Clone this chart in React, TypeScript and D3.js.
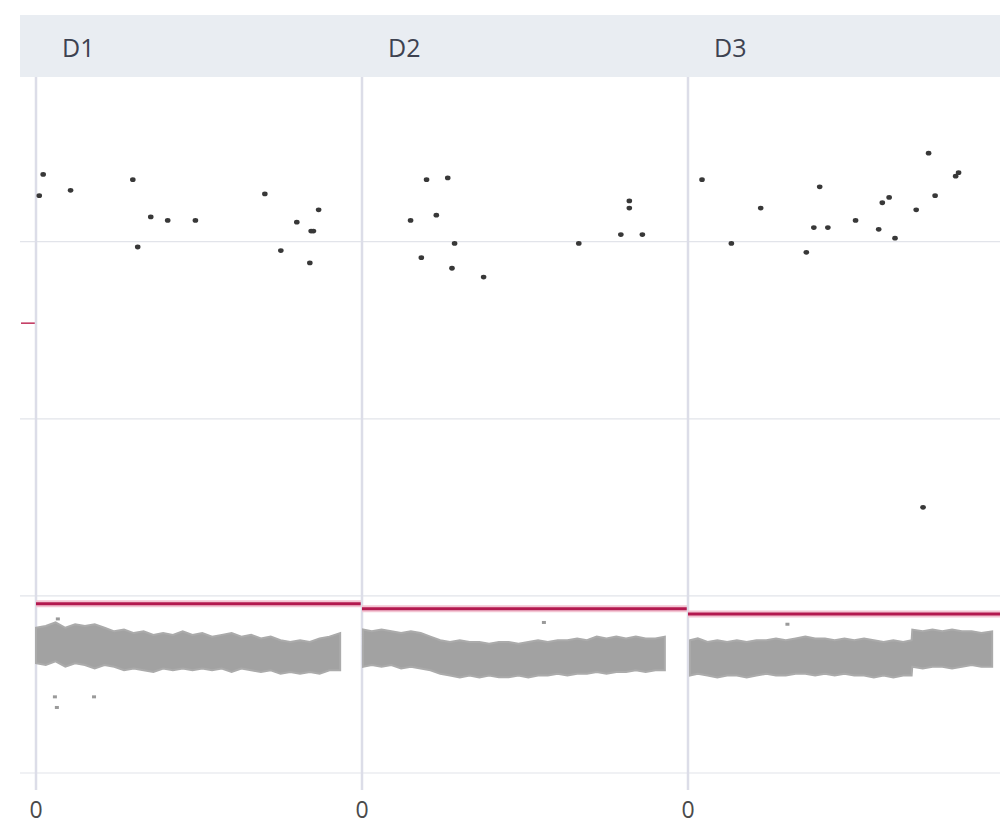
import { useEffect, useRef } from 'react';
import * as d3 from 'd3';

// panels (facets) and axis ticks
const panels = ['D1', 'D2', 'D3'];
const yTicks = [0, 1, 2, 3];
const xTicks = [0];

// segment mean level per panel
const segmentLevels = [0.955, 0.927, 0.898];

// called points (dark dots) per panel: [position, value]
const d1Points: [number, number][] = [
  [1.0, 3.26], [2.2, 3.38], [10.6, 3.29], [29.7, 3.35], [31.2, 2.97], [35.2, 3.14],
  [40.4, 3.12], [48.9, 3.12], [70.2, 3.27], [75.1, 2.95], [80.0, 3.11], [84.4, 3.06],
  [85.1, 3.06], [86.7, 3.18], [84.0, 2.88],
];
const d2Points: [number, number][] = [
  [14.9, 3.12], [19.8, 3.35], [26.3, 3.36], [22.8, 3.15], [28.4, 2.99], [18.2, 2.91],
  [27.6, 2.85], [37.3, 2.8], [66.5, 2.99], [82.0, 3.23], [82.0, 3.19], [79.4, 3.04],
  [86.0, 3.04],
];
const d3Points: [number, number][] = [
  [4.3, 3.35], [13.3, 2.99], [22.3, 3.19], [36.3, 2.94], [38.6, 3.08], [40.4, 3.31],
  [42.9, 3.08], [51.4, 3.12], [58.5, 3.07], [59.6, 3.22], [61.7, 3.25], [63.5, 3.02],
  [70.0, 3.18], [73.8, 3.5], [75.8, 3.26], [82.1, 3.37], [83.0, 3.39], [72.1, 1.5],
];

// stray grey points outside the dense band
const d1Outliers: [number, number][] = [[5.8, 0.43], [6.4, 0.37], [17.8, 0.43], [6.7, 0.87]];
const d2Outliers: [number, number][] = [[55.8, 0.85]];
const d3Outliers: [number, number][] = [[30.5, 0.84]];

// dense coverage band envelope per panel: [position, low, high]
const d1Band: [number, number, number][] = [
  [0, 0.62, 0.82], [3, 0.61, 0.83], [6, 0.63, 0.85], [9, 0.6, 0.82], [12, 0.62, 0.84],
  [15, 0.61, 0.83], [18, 0.59, 0.84], [21, 0.61, 0.82], [24, 0.6, 0.8], [27, 0.58, 0.81],
  [30, 0.59, 0.79], [33, 0.58, 0.8], [36, 0.57, 0.78], [39, 0.59, 0.79], [42, 0.58, 0.78],
  [45, 0.59, 0.8], [48, 0.58, 0.78], [51, 0.59, 0.79], [54, 0.58, 0.77], [57, 0.59, 0.78],
  [60, 0.57, 0.79], [63, 0.59, 0.77], [66, 0.58, 0.78], [69, 0.57, 0.76], [72, 0.58, 0.77],
  [75, 0.56, 0.75], [78, 0.57, 0.74], [81, 0.56, 0.75], [84, 0.57, 0.74], [87, 0.56, 0.76],
  [90, 0.58, 0.77], [93.3, 0.58, 0.79],
];
const d2Band: [number, number, number][] = [
  [0.3, 0.6, 0.81], [3, 0.61, 0.8], [6, 0.6, 0.81], [9, 0.61, 0.8], [12, 0.59, 0.79],
  [15, 0.6, 0.8], [18, 0.59, 0.79], [21, 0.58, 0.77], [24, 0.56, 0.75], [27, 0.55, 0.74],
  [30, 0.54, 0.75], [33, 0.55, 0.74], [36, 0.54, 0.74], [39, 0.55, 0.73], [42, 0.54, 0.74],
  [45, 0.54, 0.74], [48, 0.55, 0.73], [51, 0.54, 0.74], [54, 0.55, 0.75], [57, 0.55, 0.74],
  [60, 0.56, 0.75], [63, 0.55, 0.75], [66, 0.56, 0.76], [69, 0.56, 0.75], [72, 0.57, 0.77],
  [75, 0.56, 0.76], [78, 0.57, 0.77], [81, 0.57, 0.76], [84, 0.58, 0.77], [87, 0.57, 0.76],
  [90, 0.58, 0.76], [92.9, 0.58, 0.77],
];
const d3Band: [number, number, number][] = [
  [0.6, 0.55, 0.75], [3, 0.56, 0.76], [6, 0.55, 0.74], [9, 0.54, 0.75], [12, 0.55, 0.74],
  [15, 0.55, 0.75], [18, 0.54, 0.74], [21, 0.55, 0.75], [24, 0.56, 0.75], [27, 0.55, 0.76],
  [30, 0.55, 0.75], [33, 0.56, 0.76], [36, 0.56, 0.77], [39, 0.55, 0.76], [42, 0.56, 0.76],
  [45, 0.55, 0.75], [48, 0.56, 0.76], [51, 0.55, 0.75], [54, 0.55, 0.76], [57, 0.54, 0.75],
  [60, 0.55, 0.74], [63, 0.54, 0.75], [66, 0.55, 0.74], [68.6, 0.55, 0.75], [68.8, 0.6, 0.81],
  [72, 0.59, 0.8], [75, 0.6, 0.81], [78, 0.6, 0.8], [81, 0.59, 0.81], [84, 0.6, 0.8],
  [87, 0.61, 0.8], [90, 0.6, 0.79], [93.3, 0.6, 0.8],
];

// y-axis marker on the left
const yMarker = 2.54;

const panelPoints = [d1Points, d2Points, d3Points];
const panelOutliers = [d1Outliers, d2Outliers, d3Outliers];
const panelBands = [d1Band, d2Band, d3Band];

const FacetScatter = () => {
  const svgRef = useRef<SVGSVGElement | null>(null);

  useEffect(() => {
    const svg = d3.select(svgRef.current);
    svg.selectAll('*').remove();
    const width = 1000;
    const height = 826;
    const margin = { top: 77, left: 36, bottom: 53 };
    const panelWidth = 326;
    const plotBottom = height - margin.bottom;
    const font = '"Open Sans", sans-serif';

    svg.attr('width', width).attr('height', height);

    // soft edge like the dense point cloud
    const defs = svg.append('defs');
    defs.append('filter')
      .attr('id', 'soft')
      .append('feGaussianBlur')
      .attr('stdDeviation', 0.7);

    const fx = d3.scaleBand<string>()
      .domain(panels)
      .range([margin.left, margin.left + panelWidth * panels.length])
      .padding(0);

    const x = d3.scaleLinear().domain([0, 100]).range([0, panelWidth]);
    const y = d3.scaleLinear().domain([0, 3.93]).range([plotBottom, margin.top]);

    // header strip
    svg.append('rect')
      .attr('x', 20).attr('y', 15)
      .attr('width', width - 20).attr('height', margin.top - 15)
      .attr('fill', '#e9edf2');

    // horizontal grid
    svg.append('g')
      .selectAll('line')
      .data(yTicks)
      .join('line')
      .attr('x1', 20).attr('x2', width)
      .attr('y1', d => y(d)).attr('y2', d => y(d))
      .attr('stroke', '#e2e4ea')
      .attr('stroke-width', 1.2);

    // y marker
    svg.append('line')
      .attr('x1', 21).attr('x2', margin.left - 1)
      .attr('y1', y(yMarker)).attr('y2', y(yMarker))
      .attr('stroke', '#c0305a')
      .attr('stroke-width', 1.5);

    panels.forEach((p, i) => {
      const x0 = fx(p)!;
      const g = svg.append('g').attr('transform', `translate(${x0},0)`);

      // panel divider with tick extension
      g.append('line')
        .attr('x1', 0).attr('x2', 0)
        .attr('y1', margin.top).attr('y2', plotBottom + 17)
        .attr('stroke', '#dcdde8')
        .attr('stroke-width', 2.5);

      // x tick labels
      g.selectAll('text.xtick')
        .data(xTicks)
        .join('text')
        .attr('class', 'xtick')
        .attr('x', d => x(d))
        .attr('y', plotBottom + 45)
        .attr('text-anchor', 'middle')
        .attr('font-family', font)
        .attr('font-size', 23)
        .attr('fill', '#4a4a4a')
        .text(d => String(d));

      // facet label
      g.append('text')
        .attr('x', 26)
        .attr('y', 57)
        .attr('font-family', font)
        .attr('font-size', 25)
        .attr('fill', '#3d4250')
        .text(p);

      // dense coverage band
      const area = d3.area<[number, number, number]>()
        .x(d => x(d[0]))
        .y0(d => y(d[1]))
        .y1(d => y(d[2]))
        .curve(d3.curveLinear);
      g.append('path')
        .datum(panelBands[i])
        .attr('d', area)
        .attr('fill', '#a2a2a2')
        .attr('stroke', '#ababab')
        .attr('stroke-width', 2)
        .attr('filter', 'url(#soft)');

      // stray grey points
      g.selectAll('rect.outlier')
        .data(panelOutliers[i])
        .join('rect')
        .attr('class', 'outlier')
        .attr('x', d => x(d[0]) - 2)
        .attr('y', d => y(d[1]) - 1.5)
        .attr('width', 4).attr('height', 3)
        .attr('fill', '#9a9a9a');

      // segment level line
      const segEnd = i === panels.length - 1 ? width - x0 : panelWidth;
      g.append('line')
        .attr('x1', 0).attr('x2', segEnd)
        .attr('y1', y(segmentLevels[i])).attr('y2', y(segmentLevels[i]))
        .attr('stroke', '#f3c5d3')
        .attr('stroke-width', 7);
      g.append('line')
        .attr('x1', 0).attr('x2', segEnd)
        .attr('y1', y(segmentLevels[i])).attr('y2', y(segmentLevels[i]))
        .attr('stroke', '#b3194f')
        .attr('stroke-width', 3);

      // dark points
      g.selectAll('ellipse.pt')
        .data(panelPoints[i])
        .join('ellipse')
        .attr('class', 'pt')
        .attr('cx', d => x(d[0]))
        .attr('cy', d => y(d[1]))
        .attr('rx', 2.8).attr('ry', 2.4)
        .attr('fill', '#383838')
        .attr('filter', 'url(#soft)');
    });
  }, []);

  return <svg ref={svgRef} style={{ position: 'absolute', left: 0, top: 0, background: '#fff' }}></svg>;
};

export default function App() {
  return <FacetScatter />;
}
